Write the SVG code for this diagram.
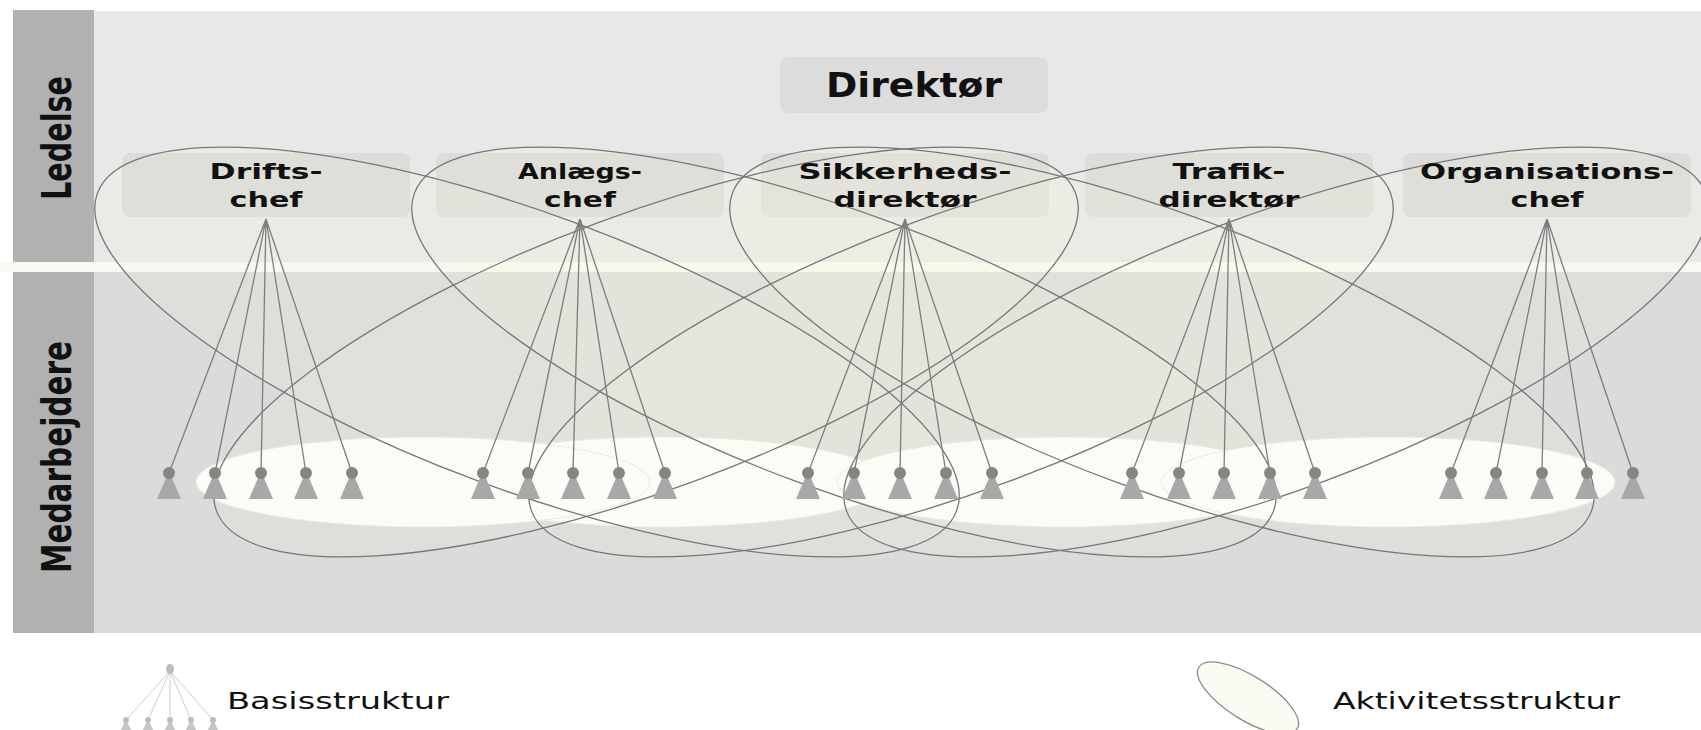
<svg xmlns="http://www.w3.org/2000/svg" width="1701" height="730" viewBox="0 0 1701 730">
<defs>
<style>
.bar{fill:#b1b1b1}
.box{fill:#dcdcd8}
.lbl{font-family:"DejaVu Sans",Verdana,sans-serif;font-weight:bold;fill:#111;text-anchor:middle}
.chef{font-size:22px}
.actf{fill:#f6f6e2;fill-opacity:0.13;stroke:none}
.acts{fill:none;stroke:#777777;stroke-width:1.3}
.wh{fill:#fcfcf7;stroke:#ebebe4;stroke-width:1}
.fan{stroke:#7d7d7d;stroke-width:1.3;fill:none}
.tri{fill:#a8a8a8}
.dot{fill:#858585}
.leg{font-family:"DejaVu Sans",Verdana,sans-serif;font-size:23px;fill:#111}
</style>
<ellipse id="e1" cx="527" cy="352" rx="458" ry="138" transform="rotate(20.3 527 352)"/>
<ellipse id="e2" cx="844" cy="352" rx="458" ry="138" transform="rotate(20.3 844 352)"/>
<ellipse id="e3" cx="1162" cy="352" rx="458" ry="138" transform="rotate(20.3 1162 352)"/>
<ellipse id="e4" cx="646" cy="352" rx="458" ry="138" transform="rotate(-20.3 646 352)"/>
<ellipse id="e5" cx="961" cy="352" rx="458" ry="138" transform="rotate(-20.3 961 352)"/>
<ellipse id="e6" cx="1276" cy="352" rx="458" ry="138" transform="rotate(-20.3 1276 352)"/>
<g id="emp"><polygon class="tri" points="0,471 12,499 -12,499"/><circle class="dot" cx="0" cy="473" r="6"/></g>
<g id="lemp"><polygon fill="#c6c6c6" points="0,719 5,730 -5,730"/><circle fill="#bdbdbd" cx="0" cy="720" r="3"/></g>
</defs>
<rect width="1701" height="730" fill="#ffffff"/>
<g id="bands">
<rect x="94" y="11" width="1607" height="251" fill="#e8e8e8"/>
<rect x="0" y="262" width="1701" height="10" fill="#f9f9f4"/>
<rect x="94" y="272" width="1607" height="361" fill="#dbdbdb"/>
<rect class="bar" x="13" y="10" width="81" height="252"/>
<rect class="bar" x="13" y="272" width="81" height="361"/>
<text class="lbl" font-size="29" textLength="124" lengthAdjust="spacingAndGlyphs" transform="translate(71,138) scale(1.4,1) rotate(-90)">Ledelse</text>
<text class="lbl" font-size="29" textLength="232" lengthAdjust="spacingAndGlyphs" transform="translate(71,457) scale(1.4,1) rotate(-90)">Medarbejdere</text>
</g>
<g id="direktor">
<rect x="780" y="57" width="268" height="56" rx="8" fill="#dcdcdc"/>
<text class="lbl" x="914" y="97" font-size="33" textLength="176" lengthAdjust="spacingAndGlyphs">Direktør</text>
</g>
<g id="chef-boxes">
<rect class="box" x="122" y="153" width="288" height="64" rx="8"/>
<rect class="box" x="436" y="153" width="288" height="64" rx="8"/>
<rect class="box" x="761" y="153" width="288" height="64" rx="8"/>
<rect class="box" x="1085" y="153" width="288" height="64" rx="8"/>
<rect class="box" x="1403" y="153" width="288" height="64" rx="8"/>
</g>
<g id="activity-fill" class="actf">
<use href="#e1"/><use href="#e2"/><use href="#e3"/><use href="#e4"/><use href="#e5"/><use href="#e6"/>
</g>
<g id="highlights">
<ellipse class="wh" cx="663" cy="482" rx="227" ry="45" stroke="none"/>
<ellipse class="wh" cx="423" cy="482" rx="227" ry="45"/>
<ellipse class="wh" cx="1064" cy="482" rx="227" ry="45"/>
<ellipse class="wh" cx="1388" cy="482" rx="227" ry="45"/>
</g>
<g id="activity" class="acts">
<use href="#e1"/><use href="#e2"/><use href="#e3"/><use href="#e4"/><use href="#e5"/><use href="#e6"/>
</g>
<g id="connectors" class="fan">
<path d="M266,219L169,473M266,219L215,473M266,219L261,473M266,219L306,473M266,219L352,473"/>
<path d="M580,219L483,473M580,219L528,473M580,219L573,473M580,219L619,473M580,219L665,473"/>
<path d="M905,219L808,473M905,219L854,473M905,219L900,473M905,219L946,473M905,219L992,473"/>
<path d="M1229,219L1132,473M1229,219L1179,473M1229,219L1224,473M1229,219L1270,473M1229,219L1315,473"/>
<path d="M1547,219L1451,473M1547,219L1496,473M1547,219L1542,473M1547,219L1587,473M1547,219L1633,473"/>
</g>
<g id="drifts">
<text class="lbl chef" x="266" y="179" textLength="113" lengthAdjust="spacingAndGlyphs">Drifts-</text>
<text class="lbl chef" x="266" y="207" textLength="73" lengthAdjust="spacingAndGlyphs">chef</text>
<use href="#emp" x="169"/><use href="#emp" x="215"/><use href="#emp" x="261"/><use href="#emp" x="306"/><use href="#emp" x="352"/>
</g>
<g id="anlaegs">
<text class="lbl chef" x="580" y="179" textLength="124" lengthAdjust="spacingAndGlyphs">Anlægs-</text>
<text class="lbl chef" x="580" y="207" textLength="72" lengthAdjust="spacingAndGlyphs">chef</text>
<use href="#emp" x="483"/><use href="#emp" x="528"/><use href="#emp" x="573"/><use href="#emp" x="619"/><use href="#emp" x="665"/>
</g>
<g id="sikkerheds">
<text class="lbl chef" x="905" y="179" textLength="213" lengthAdjust="spacingAndGlyphs">Sikkerheds-</text>
<text class="lbl chef" x="905" y="207" textLength="143" lengthAdjust="spacingAndGlyphs">direktør</text>
<use href="#emp" x="808"/><use href="#emp" x="854"/><use href="#emp" x="900"/><use href="#emp" x="946"/><use href="#emp" x="992"/>
</g>
<g id="trafik">
<text class="lbl chef" x="1229" y="179" textLength="113" lengthAdjust="spacingAndGlyphs">Trafik-</text>
<text class="lbl chef" x="1229" y="207" textLength="141" lengthAdjust="spacingAndGlyphs">direktør</text>
<use href="#emp" x="1132"/><use href="#emp" x="1179"/><use href="#emp" x="1224"/><use href="#emp" x="1270"/><use href="#emp" x="1315"/>
</g>
<g id="organisation">
<text class="lbl chef" x="1547" y="179" textLength="254" lengthAdjust="spacingAndGlyphs">Organisations-</text>
<text class="lbl chef" x="1547" y="207" textLength="73" lengthAdjust="spacingAndGlyphs">chef</text>
<use href="#emp" x="1451"/><use href="#emp" x="1496"/><use href="#emp" x="1542"/><use href="#emp" x="1587"/><use href="#emp" x="1633"/>
</g>
<g id="legend-basis">
<path d="M170,671L126,720M170,671L148,720M170,671L170,720M170,671L191,720M170,671L213,720" stroke="#cfcfcf" stroke-width="1" fill="none"/>
<ellipse cx="170" cy="669" rx="4" ry="5" fill="#bdbdbd"/>
<use href="#lemp" x="126"/><use href="#lemp" x="148"/><use href="#lemp" x="170"/><use href="#lemp" x="191"/><use href="#lemp" x="213"/>
<text class="leg" x="227" y="709" textLength="222" lengthAdjust="spacingAndGlyphs">Basisstruktur</text>
</g>
<g id="legend-activity">
<ellipse cx="1248" cy="698" rx="58" ry="22" transform="rotate(32 1248 698)" fill="#fbfbf3" stroke="#8c8c8c" stroke-width="1.3"/>
<text class="leg" x="1333" y="709" textLength="287" lengthAdjust="spacingAndGlyphs">Aktivitetsstruktur</text>
</g>
</svg>
